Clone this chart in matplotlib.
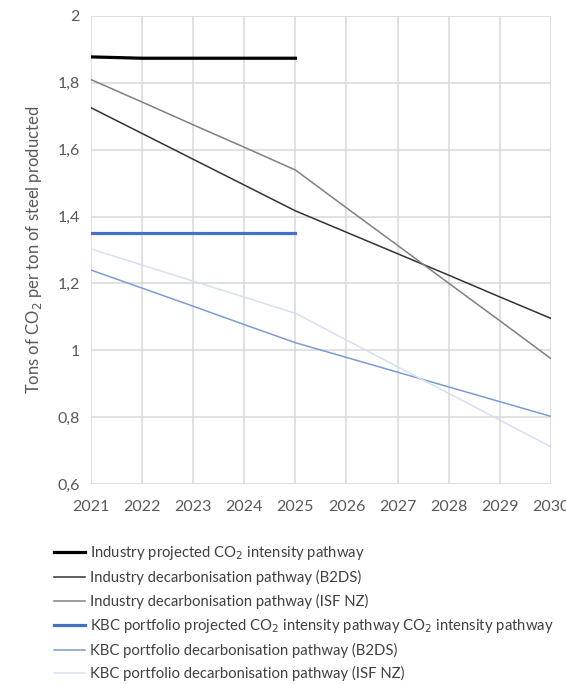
import matplotlib
matplotlib.use("Agg")
import matplotlib.pyplot as plt

plt.rcParams['font.family'] = ['Lato', 'DejaVu Sans']

years = [2021, 2022, 2023, 2024, 2025, 2026, 2027, 2028, 2029, 2030]
years_proj = [2021, 2022, 2023, 2024, 2025]

ind_proj = [1.877, 1.873, 1.873, 1.873, 1.873]
ind_b2ds = [1.725, 1.648, 1.571, 1.494, 1.417, 1.353, 1.289, 1.225, 1.160, 1.096]
ind_isf = [1.809, 1.742, 1.674, 1.607, 1.539, 1.426, 1.314, 1.201, 1.089, 0.976]
kbc_proj = [1.350, 1.350, 1.350, 1.350, 1.350]
kbc_b2ds = [1.240, 1.186, 1.132, 1.077, 1.023, 0.979, 0.935, 0.891, 0.847, 0.803]
kbc_isf = [1.303, 1.255, 1.207, 1.159, 1.111, 1.031, 0.951, 0.872, 0.792, 0.712]

yticks = [0.6, 0.8, 1.0, 1.2, 1.4, 1.6, 1.8, 2.0]
ytick_labels = ['0,6', '0,8', '1', '1,2', '1,4', '1,6', '1,8', '2']

txt = '#595959'

fig = plt.figure(figsize=(5.66, 6.84), dpi=100)
ax = fig.add_axes([0.161, 0.292, 0.812, 0.685])

l1, = ax.plot(years_proj, ind_proj, color='black', lw=2.3)
l2, = ax.plot(years, ind_b2ds, color='#333333', lw=1.1)
l3, = ax.plot(years, ind_isf, color='#808080', lw=1.1)
l4, = ax.plot(years_proj, kbc_proj, color='#4472c4', lw=2.3)
l5, = ax.plot(years, kbc_b2ds, color='#7c9bd6', lw=1.1)
l6, = ax.plot(years, kbc_isf, color='#d6e0f4', lw=1.1)

ax.set_xlim(2021, 2030)
ax.set_ylim(0.6, 2.0)
ax.set_xticks(years)
ax.set_yticks(yticks)
ax.set_yticklabels(ytick_labels)
ax.grid(True, color='#d9d9d9', lw=1.1)
ax.set_axisbelow(True)
for s in ax.spines.values():
    s.set_visible(False)
ax.tick_params(length=0, labelsize=11.5, colors=txt, pad=8)
ax.tick_params(axis='x', pad=11)
ax.set_ylabel('Tons of CO$_2$ per ton of steel producted', fontsize=12, color=txt, labelpad=10)

labels = ['Industry projected CO$_2$ intensity pathway',
          'Industry decarbonisation pathway (B2DS)',
          'Industry decarbonisation pathway (ISF NZ)',
          'KBC portfolio projected CO$_2$ intensity pathway CO$_2$ intensity pathway',
          'KBC portfolio decarbonisation pathway (B2DS)',
          'KBC portfolio decarbonisation pathway (ISF NZ)']
leg = fig.legend([l1, l2, l3, l4, l5, l6], labels, loc='upper left',
                 bbox_to_anchor=(0.085, 0.213), frameon=False, fontsize=10.7,
                 handlelength=2.1, handletextpad=0.3, labelspacing=0.55,
                 borderaxespad=0)
for t in leg.get_texts():
    t.set_color('#404040')

fig.savefig('out.png', dpi=100)
